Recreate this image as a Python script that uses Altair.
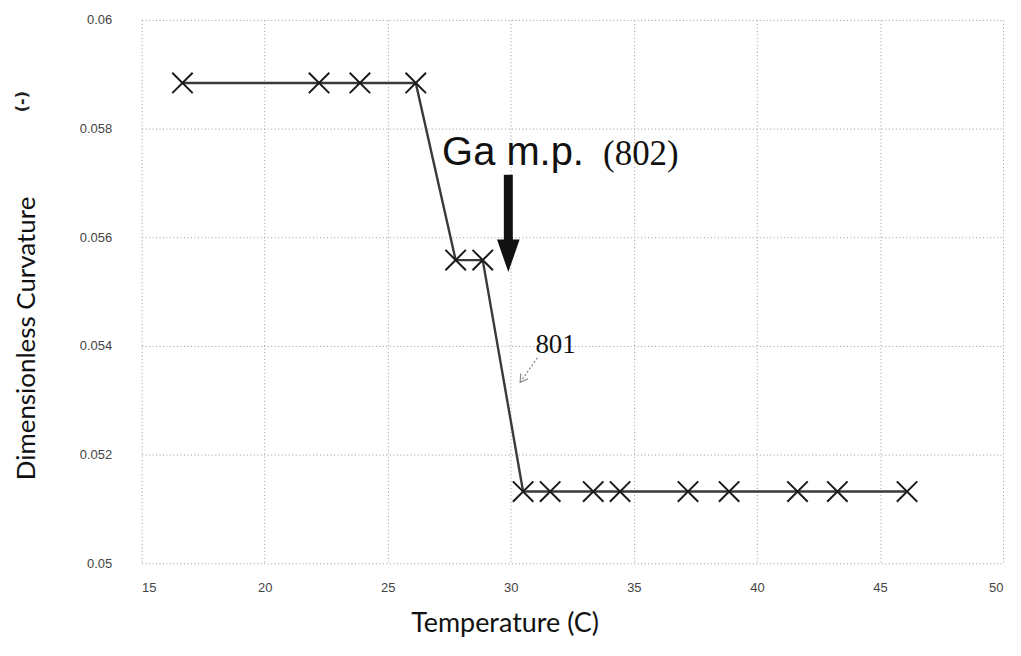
import altair as alt
import pandas as pd

# Data
temps = [16.66, 22.21, 23.87, 26.14, 27.76, 28.86, 30.5, 31.6, 33.35, 34.44,
         37.2, 38.87, 41.65, 43.27, 46.1]
curv = [0.05884, 0.05884, 0.05884, 0.05884, 0.05558, 0.05558, 0.05132, 0.05132,
        0.05132, 0.05132, 0.05132, 0.05132, 0.05132, 0.05132, 0.05132]
x_ticks = [15, 20, 25, 30, 35, 40, 45, 50]
y_ticks = [0.05, 0.052, 0.054, 0.056, 0.058, 0.06]

df = pd.DataFrame({"T": temps, "K": curv})

xs = alt.Scale(domain=[15, 50], nice=False, zero=False)
ys = alt.Scale(domain=[0.05, 0.06], nice=False, zero=False)

FONT_T = "Lato"

x_enc = alt.X("T:Q", scale=xs, axis=alt.Axis(
    values=x_ticks, format="d", title="Temperature (C)",
    titleX=364, titleY=60, titleAlign="center", titleBaseline="middle",
    titleFont=FONT_T, titleFontSize=27, titleFontWeight="normal", titleColor="#111",
    labelFont="Liberation Sans", labelFontSize=13, labelColor="#444", labelPadding=18,
    ticks=False, domain=False, grid=True, gridColor="#9a9a9a", gridDash=[1, 2.5],
    gridWidth=1))
y_enc = alt.Y("K:Q", scale=ys, axis=alt.Axis(
    values=y_ticks, format="~g", title="Dimensionless Curvature",
    titleX=-115, titleY=319, titleAngle=-90, titleAlign="center", titleBaseline="middle",
    titleFont=FONT_T, titleFontSize=26, titleFontWeight="normal", titleColor="#111",
    labelFont="Liberation Sans", labelFontSize=13, labelColor="#444", labelPadding=30,
    ticks=False, domain=False, grid=True, gridColor="#9a9a9a", gridDash=[1, 2.5],
    gridWidth=1))

line = alt.Chart(df).mark_line(color="#3a3a3a", strokeWidth=2.4).encode(x=x_enc, y=y_enc)
pts = alt.Chart(df).mark_point(
    shape="M-1,-1L1,1M-1,1L1,-1", size=420, filled=False, stroke="#1a1a1a",
    strokeWidth=2, opacity=1).encode(x="T:Q", y="K:Q")

# Annotations
ann_main = pd.DataFrame({"T": [27.21], "K": [0.05733], "t": ["Ga m.p."]})
ann_802 = pd.DataFrame({"T": [33.75], "K": [0.05733], "t": ["(802)"]})
ann_801 = pd.DataFrame({"T": [31.0], "K": [0.05387], "t": ["801"]})

txt_main = alt.Chart(ann_main).mark_text(
    font="Liberation Sans", fontSize=40, align="left", baseline="alphabetic",
    color="#111").encode(x="T:Q", y="K:Q", text="t:N")
txt_802 = alt.Chart(ann_802).mark_text(
    font="Liberation Serif", fontSize=35, align="left", baseline="alphabetic",
    color="#111").encode(x="T:Q", y="K:Q", text="t:N")
txt_801 = alt.Chart(ann_801).mark_text(
    font="Liberation Serif", fontSize=27, align="left", baseline="alphabetic",
    color="#111").encode(x="T:Q", y="K:Q", text="t:N")

# Big black arrow
shaft = pd.DataFrame({"T": [29.9], "K": [0.05715], "K2": [0.05590]})
arrow_shaft = alt.Chart(shaft).mark_rule(color="#111", strokeWidth=9).encode(
    x="T:Q", y="K:Q", y2="K2:Q")
head = pd.DataFrame({"T": [29.9], "K": [0.05566]})
arrow_head = alt.Chart(head).mark_point(
    shape="M-0.7,-1L0.7,-1L0,1Z", size=1050, filled=True, color="#111",
    opacity=1).encode(x="T:Q", y="K:Q")

# Small gray dashed arrow for 801
g = pd.DataFrame({"T": [31.08], "K": [0.05378], "T2": [30.38], "K2": [0.05333]})
g_line = alt.Chart(g).mark_rule(color="#888", strokeWidth=1.2, strokeDash=[2, 2]).encode(
    x="T:Q", y="K:Q", x2="T2:Q", y2="K2:Q")
g_head = alt.Chart(pd.DataFrame({"T": [30.38], "K": [0.05333]})).mark_point(
    shape="M-0.6,-1L0,0L0.6,-1", size=230, filled=False, stroke="#888",
    strokeWidth=1.2, angle=35, opacity=1).encode(x="T:Q", y="K:Q")

glyph = alt.Chart(pd.DataFrame({"t": ["(-)"]})).mark_text(
    font="DejaVu Sans", fontSize=16, fontWeight="bold", angle=270, color="#222",
    align="center", baseline="middle").encode(
    x=alt.value(-120), y=alt.value(82), text="t:N")

chart = alt.layer(line, pts, arrow_shaft, arrow_head, txt_main, txt_802, txt_801,
                  g_line, g_head, glyph).properties(
    width=864, height=545,
    autosize=alt.AutoSizeParams(type="none"),
    padding={"left": 134, "top": 11, "right": 10, "bottom": 80},
    background="white",
).configure_view(stroke=None)

chart.save("out.html", embed_options={"renderer": "svg", "actions": False})
